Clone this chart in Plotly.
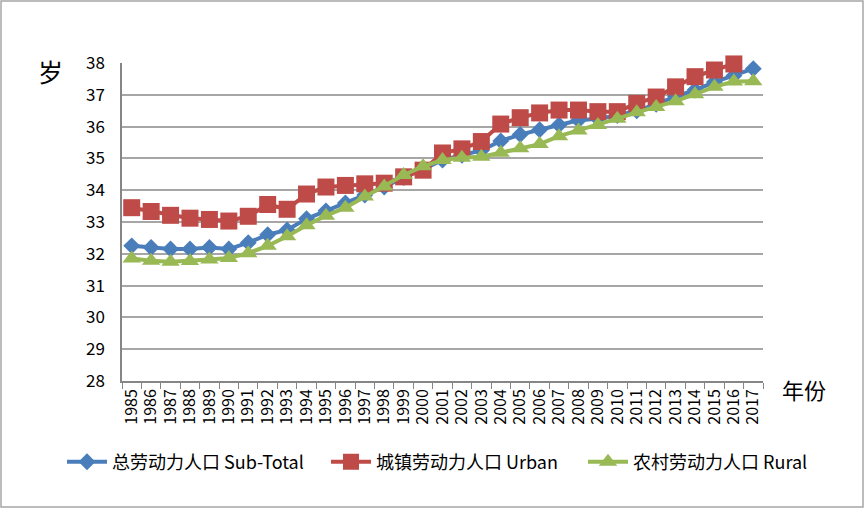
import plotly.graph_objects as go

years = [str(y) for y in range(1985, 2018)]

total = [32.25, 32.2, 32.15, 32.15, 32.2, 32.15, 32.35, 32.6, 32.75, 33.1,
         33.35, 33.6, 33.85, 34.1, 34.4, 34.65, 34.95, 35.1, 35.25, 35.55,
         35.75, 35.9, 36.05, 36.2, 36.25, 36.35, 36.5, 36.7, 36.95, 37.15,
         37.4, 37.6, 37.82]

urban = [33.45, 33.33, 33.21, 33.12, 33.08, 33.03, 33.18, 33.55, 33.4, 33.88,
         34.1, 34.15, 34.2, 34.22, 34.42, 34.63, 35.17, 35.3, 35.53, 36.08,
         36.28, 36.43, 36.52, 36.52, 36.47, 36.47, 36.73, 36.93, 37.25, 37.57,
         37.78, 37.97, None]

rural = [31.85, 31.78, 31.75, 31.77, 31.82, 31.87, 32.02, 32.25, 32.55, 32.9,
         33.2, 33.45, 33.8, 34.12, 34.48, 34.75, 34.95, 35.02, 35.05, 35.18,
         35.32, 35.45, 35.7, 35.88, 36.05, 36.25, 36.45, 36.62, 36.8, 37.02,
         37.25, 37.42, 37.43]

names = ["总劳动力人口 Sub-Total", "城镇劳动力人口 Urban", "农村劳动力人口 Rural"]
colors = ["#4A7EBB", "#BE4B48", "#98B954"]
symbols = ["diamond", "square", "triangle-up"]
sizes = [13, 17, 16]
legend_ids = ["legend", "legend2", "legend3"]
legend_x = [62, 326, 583]

FONT = "Noto Sans CJK SC"

fig = go.Figure()
for vals, nm, c, s, sz, lg in zip([total, urban, rural], names, colors, symbols, sizes, legend_ids):
    fig.add_trace(go.Scatter(
        x=years, y=vals, name=nm, mode="lines+markers", legend=lg,
        cliponaxis=False,
        line=dict(color=c, width=4),
        marker=dict(symbol=s, size=sz, color=c, line=dict(width=0)),
    ))

L, R, T, B = 122, 763, 63, 381
W, H = 864, 508
pw, ph = R - L, B - T

def px(x):
    return (x - L) / pw

def py(y):
    return (B - y) / ph

legend_common = dict(
    orientation="h", xref="container", yref="container",
    xanchor="left", y=1 - 462 / H, yanchor="middle",
    font=dict(family=FONT, size=18, color="#000000"),
    itemwidth=40, bgcolor="rgba(0,0,0,0)",
)

fig.update_layout(
    width=W, height=H,
    margin=dict(l=L, r=W - R, t=T, b=H - B, pad=0, autoexpand=False),
    paper_bgcolor="white", plot_bgcolor="white",
    font=dict(family=FONT, size=16, color="#000000"),
    showlegend=True,
    legend=dict(x=legend_x[0] / W, **legend_common),
    legend2=dict(x=legend_x[1] / W, **legend_common),
    legend3=dict(x=legend_x[2] / W, **legend_common),
    xaxis=dict(
        type="category", tickson="boundaries", ticks="outside", ticklen=6,
        tickcolor="#868686", showline=True, linecolor="#868686", linewidth=1.5,
        showgrid=False, tickangle=-90, tickfont=dict(family=FONT, size=16),
        range=[-0.5, 32.5],
    ),
    yaxis=dict(
        range=[28, 38], dtick=1, tick0=28, showgrid=True, gridcolor="#A6A6A6",
        gridwidth=1.5, showline=True, linecolor="#868686", linewidth=1.5,
        ticks="", ticklabelstandoff=12, tickfont=dict(family=FONT, size=17),
        zeroline=False,
    ),
    annotations=[
        dict(text="岁", xref="paper", yref="paper", x=px(50), y=py(71),
             xanchor="center", yanchor="middle",
             showarrow=False, font=dict(family=FONT, size=25, color="#000000")),
        dict(text="年份", xref="paper", yref="paper", x=px(804), y=py(389),
             xanchor="center", yanchor="middle",
             showarrow=False, font=dict(family=FONT, size=22, color="#000000")),
    ],
    shapes=[
        dict(type="rect", xref="paper", yref="paper",
             x0=px(1), x1=px(863), y0=py(507), y1=py(1),
             line=dict(color="#A6A6A6", width=1.5), layer="below"),
    ],
)

fig.write_html("out.html", config={"displayModeBar": False},
               post_script="document.body.style.margin='0';")
